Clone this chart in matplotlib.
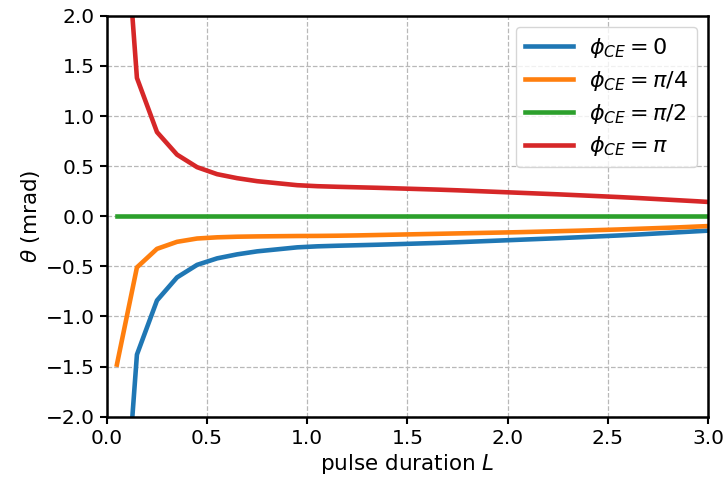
import matplotlib.pyplot as plt
import numpy as np

# pulse duration samples
L = [0.05, 0.15, 0.25, 0.35, 0.45, 0.55, 0.65, 0.75, 0.85, 0.95,
     1.05, 1.15, 1.25, 1.35, 1.45, 1.55, 1.65, 1.75, 1.85, 1.95,
     2.05, 2.15, 2.25, 2.35, 2.45, 2.55, 2.65, 2.75, 2.85, 2.95, 3.05]

# theta (mrad) for each carrier-envelope phase
theta_0 = [-4.10, -1.38, -0.84, -0.61, -0.485, -0.42, -0.38, -0.35, -0.33, -0.31,
           -0.30, -0.294, -0.289, -0.284, -0.278, -0.272, -0.266, -0.259, -0.251, -0.243,
           -0.235, -0.227, -0.219, -0.210, -0.201, -0.192, -0.182, -0.171, -0.160, -0.149, -0.138]
theta_pi4 = [-1.48, -0.51, -0.325, -0.255, -0.222, -0.210, -0.204, -0.201, -0.199, -0.197,
             -0.196, -0.194, -0.191, -0.187, -0.183, -0.179, -0.175, -0.171, -0.167, -0.163,
             -0.159, -0.154, -0.149, -0.144, -0.138, -0.132, -0.125, -0.118, -0.111, -0.102, -0.094]
theta_pi2 = [0.0] * 31
theta_pi = [4.10, 1.38, 0.84, 0.615, 0.49, 0.42, 0.38, 0.35, 0.33, 0.31,
            0.30, 0.294, 0.289, 0.284, 0.278, 0.272, 0.266, 0.259, 0.251, 0.243,
            0.235, 0.227, 0.219, 0.210, 0.201, 0.192, 0.182, 0.171, 0.160, 0.149, 0.137]

labels = [r'$\phi_{CE}=0$', r'$\phi_{CE}=\pi/4$', r'$\phi_{CE}=\pi/2$', r'$\phi_{CE}=\pi$']
colors = ['#1f77b4', '#ff7f0e', '#2ca02c', '#d62728']

fig = plt.figure(figsize=(7.27, 4.79), dpi=100)
ax = fig.add_axes([0.147, 0.13, 0.827, 0.837])

for y, lab, c in zip([theta_0, theta_pi4, theta_pi2, theta_pi], labels, colors):
    ax.plot(L, y, color=c, lw=3.3, label=lab)

ax.set_xlim(0, 3)
ax.set_ylim(-2, 2)
ax.set_xticks(np.arange(0, 3.01, 0.5))
ax.set_yticks(np.arange(-2, 2.01, 0.5))
ax.grid(True, ls='--', color='#b8b8b8', lw=0.9)
ax.tick_params(labelsize=14.5, width=1.5, length=5)
for s in ax.spines.values():
    s.set_linewidth(1.8)

ax.set_xlabel('pulse duration $L$', fontsize=15.5, labelpad=3)
ax.set_ylabel(r'$\theta$ (mrad)', fontsize=15.5, labelpad=3)
ax.legend(loc='upper right', fontsize=16, handlelength=2.2, handletextpad=0.7,
          labelspacing=0.4)

plt.savefig('out.png', dpi=100)
